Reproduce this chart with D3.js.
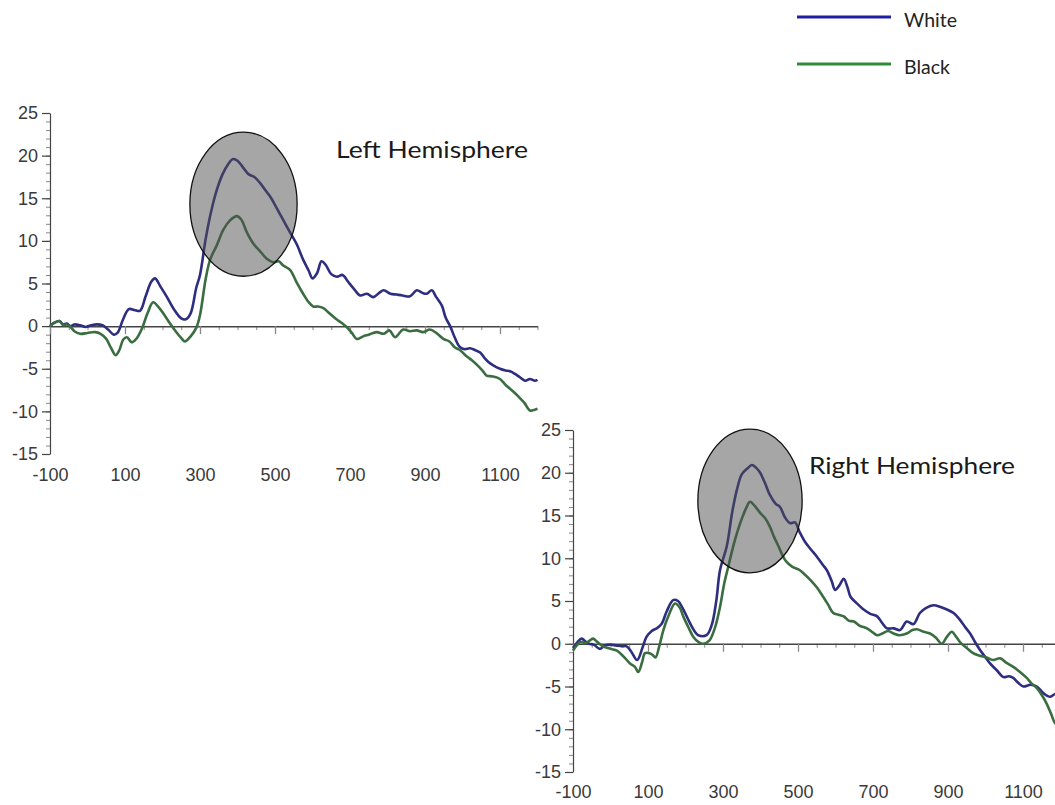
<!DOCTYPE html>
<html><head><meta charset="utf-8">
<script src="https://cdn.jsdelivr.net/npm/d3@7"></script>
<style>body{margin:0;background:#fff;overflow:hidden} svg{display:block}</style>
</head><body><svg id="c" width="1055" height="805"></svg>
<script>
// ---------------- data ----------------
const seriesNames = ["White", "Black"];
const xTicks = [-100, 100, 300, 500, 700, 900, 1100];
const yTicks = [25, 20, 15, 10, 5, 0, -5, -10, -15];
const panelTitles = ["Left Hemisphere", "Right Hemisphere"];

// [time (ms), amplitude]
const leftWhite = [[-100,0],[-88,0.4],[-75,0.6],[-65,0.2],[-55,0.3],[-45,0],[-35,0.2],[-20,0.1],[-5,-0.1],[10,0.1],[25,0.2],[40,0.1],[55,-0.4],[70,-1.0],[80,-0.8],[95,0.8],[110,2.0],[125,1.9],[140,1.8],[155,3.5],[170,5.2],[180,5.6],[195,4.6],[212,3.4],[230,2.0],[250,0.9],[262,0.8],[275,1.5],[290,4.5],[300,6.0],[315,10.2],[330,13.5],[345,16.0],[360,17.8],[375,19.0],[388,19.6],[400,19.4],[415,18.6],[430,17.8],[445,17.5],[460,16.8],[475,15.9],[490,15.0],[505,13.8],[520,12.6],[540,11.0],[558,9.6],[575,7.8],[590,6.5],[600,5.6],[612,6.2],[624,7.6],[635,7.2],[650,6.1],[665,5.8],[680,6.0],[695,5.2],[710,4.4],[727,3.6],[745,3.8],[762,3.4],[778,3.9],[790,4.2],[808,3.8],[824,3.7],[840,3.6],[860,3.5],[878,4.2],[893,3.9],[905,3.8],[918,4.2],[930,3.4],[945,2.4],[955,1.0],[967,0],[980,-1.4],[992,-2.4],[1005,-2.7],[1020,-2.6],[1033,-2.8],[1047,-3.1],[1058,-3.7],[1069,-4.2],[1082,-4.6],[1100,-5.0],[1115,-5.2],[1127,-5.3],[1140,-5.6],[1153,-6.0],[1167,-6.4],[1180,-6.2],[1193,-6.4],[1200,-6.3]];

const leftBlack = [[-100,0],[-88,0.4],[-75,0.6],[-65,0.1],[-55,0.2],[-45,-0.1],[-35,-0.6],[-20,-0.9],[0,-0.8],[20,-0.7],[35,-0.9],[50,-1.5],[62,-2.5],[75,-3.4],[85,-2.8],[95,-1.6],[105,-1.3],[118,-1.9],[130,-1.5],[145,-0.3],[160,1.5],[175,2.8],[190,2.2],[205,1.3],[220,0.3],[235,-0.6],[250,-1.4],[260,-1.8],[275,-1.2],[290,-0.2],[300,1.3],[315,5.5],[327,7.8],[345,9.5],[362,11.3],[380,12.4],[398,12.9],[410,12.5],[425,11.0],[442,9.7],[460,8.8],[478,7.9],[495,7.5],[510,7.6],[522,7.1],[540,6.6],[558,5.1],[575,3.8],[590,2.8],[602,2.3],[615,2.3],[629,2.1],[645,1.5],[664,0.8],[680,0.3],[691,-0.1],[705,-0.8],[718,-1.5],[735,-1.2],[750,-1.0],[771,-0.7],[790,-0.9],[805,-0.5],[820,-1.3],[842,-0.4],[860,-0.6],[878,-0.5],[895,-0.7],[913,-0.4],[930,-0.8],[949,-1.5],[965,-1.8],[980,-2.5],[993,-2.8],[1010,-3.5],[1025,-4.0],[1040,-4.6],[1055,-5.3],[1064,-5.8],[1080,-5.9],[1100,-6.2],[1115,-6.9],[1136,-7.7],[1150,-8.3],[1165,-9.0],[1180,-9.9],[1193,-9.8],[1200,-9.7]];

const rightWhite = [[-100,-0.5],[-88,0.2],[-77,0.6],[-65,0.2],[-57,0],[-45,-0.1],[-28,-0.6],[-15,-0.2],[-1,-0.1],[15,-0.2],[30,-0.3],[43,-0.3],[55,-0.9],[71,-1.9],[85,-0.5],[96,0.8],[110,1.5],[123,1.8],[136,2.3],[150,3.8],[167,5.1],[180,5.0],[192,4.2],[212,2.4],[225,1.4],[234,1.0],[256,1.0],[270,2.2],[282,5.0],[292,8.6],[310,11.4],[325,15.5],[337,18.0],[350,19.8],[365,20.5],[377,20.9],[388,20.6],[399,20.0],[412,18.8],[425,17.4],[440,16.4],[452,16.0],[465,14.8],[479,14.1],[492,14.2],[505,13.0],[519,11.9],[535,11.0],[550,10.2],[565,9.3],[577,8.6],[590,7.3],[599,6.3],[610,6.8],[622,7.6],[632,6.6],[640,5.5],[660,4.6],[675,4.0],[693,3.5],[711,3.2],[725,2.4],[737,1.8],[755,1.8],[772,1.6],[790,2.6],[808,2.3],[825,3.6],[842,4.2],[861,4.5],[880,4.3],[897,4.0],[915,3.6],[932,2.8],[945,2.0],[959,1.2],[972,0.2],[985,-0.7],[1000,-1.6],[1012,-2.3],[1030,-3.1],[1048,-3.9],[1062,-3.8],[1074,-4.0],[1088,-4.6],[1101,-5.0],[1120,-4.8],[1137,-5.0],[1155,-5.8],[1172,-6.2],[1185,-5.9],[1200,-6.0]];

const rightBlack = [[-100,-0.8],[-90,-0.2],[-80,0.2],[-65,0.1],[-55,0.4],[-46,0.6],[-35,0.2],[-20,-0.3],[0,-0.6],[17,-0.8],[35,-1.5],[52,-2.3],[65,-2.7],[74,-3.3],[84,-2.2],[92,-1.1],[104,-1.1],[112,-1.3],[120,-1.6],[130,-0.3],[141,1.6],[155,3.3],[172,4.7],[185,4.2],[194,3.2],[208,1.9],[221,0.8],[235,0.2],[247,0],[264,0.4],[278,1.8],[292,4.3],[303,7.0],[314,9.0],[325,11.0],[337,12.9],[350,14.6],[362,15.9],[372,16.6],[385,16.1],[399,15.3],[412,14.7],[425,13.7],[436,12.5],[447,11.5],[458,10.4],[469,9.6],[485,9.0],[505,8.6],[518,8.1],[532,7.5],[550,6.6],[567,5.5],[580,4.6],[594,3.6],[608,3.4],[622,3.2],[635,2.7],[649,2.6],[665,2.1],[684,1.8],[700,1.3],[711,1.0],[725,1.2],[740,1.5],[755,1.2],[770,1.0],[790,1.2],[805,1.6],[817,1.7],[835,1.4],[852,1.2],[868,0.7],[883,0],[897,0.8],[910,1.4],[922,0.8],[932,0.2],[950,-0.5],[967,-1.1],[985,-1.4],[1003,-1.6],[1020,-1.9],[1039,-1.7],[1055,-2.2],[1074,-2.7],[1092,-3.3],[1110,-4.0],[1122,-4.6],[1137,-5.2],[1150,-6.0],[1163,-7.0],[1175,-8.2],[1186,-9.3],[1200,-9.6]];

// highlight ellipses: [centre time, centre amplitude, half-width (ms), half-height (units)]
const leftHighlight = [416, 14.3, 143, 8.45];
const rightHighlight = [372, 16.7, 139, 8.4];

// ---------------- layout / style ----------------
const lineColors = {White: "#2e2e80", Black: "#3a6e41"};
const legendColors = {White: "#1f1fa3", Black: "#2e8b38"};

const panels = [
  {title: panelTitles[0], data: {White: leftWhite, Black: leftBlack}, hl: leftHighlight,
   xr: [50, 537.5], yr: [113, 454], labelY: 475, titleX: 336, titleY: 158, titleW: 192},
  {title: panelTitles[1], data: {White: rightWhite, Black: rightBlack}, hl: rightHighlight,
   xr: [573, 1060.5], yr: [430, 772], labelY: 791.5, titleX: 809, titleY: 474, titleW: 206}
];

const svg = d3.select("#c");
const tickFont = "'Liberation Sans', Arial, Helvetica, sans-serif";
const textFont = "Lato, 'Open Sans', sans-serif";
const fmt = d => String(d);

panels.forEach(p => {
  const x = d3.scaleLinear().domain([-100, 1200]).range(p.xr);
  const y = d3.scaleLinear().domain([25, -15]).range(p.yr);
  const g = svg.append("g");

  // y axis minor ticks
  g.append("g").attr("transform", `translate(${p.xr[0]},0)`)
    .call(d3.axisLeft(y).tickValues(d3.range(-15, 26, 1)).tickSize(4).tickSizeOuter(0).tickFormat(""))
    .call(a => { a.select(".domain").remove(); a.selectAll("line").attr("stroke", "#888"); });
  // y axis major
  g.append("g").attr("transform", `translate(${p.xr[0]},0)`)
    .call(d3.axisLeft(y).tickValues(yTicks).tickSize(8).tickSizeOuter(0).tickPadding(4).tickFormat(fmt))
    .call(a => {
      a.select(".domain").attr("stroke", "#444").attr("stroke-width", 1.2);
      a.selectAll("line").attr("stroke", "#444").attr("stroke-width", 1.2);
      a.selectAll("text").attr("font-family", tickFont).attr("font-size", 18).attr("fill", "#3a3a3a");
    });

  // x axis on zero line: minor ticks
  g.append("g").attr("transform", `translate(0,${y(0)})`)
    .call(d3.axisBottom(x).tickValues(d3.range(-100, 1201, 50)).tickSize(4).tickSizeOuter(0).tickFormat(""))
    .call(a => { a.select(".domain").remove(); a.selectAll("line").attr("stroke", "#888"); });
  g.append("g").attr("transform", `translate(0,${y(0)})`)
    .call(d3.axisBottom(x).tickValues(xTicks).tickSize(8).tickSizeOuter(0).tickFormat(""))
    .call(a => {
      a.select(".domain").attr("stroke", "#444").attr("stroke-width", 1.5);
      a.selectAll("line").attr("stroke", "#888").attr("stroke-width", 1.3);
    });
  // x tick labels at bottom
  g.append("g").attr("transform", `translate(0,${p.labelY})`)
    .call(d3.axisBottom(x).tickValues(xTicks).tickSize(0).tickPadding(0).tickFormat(fmt))
    .call(a => {
      a.select(".domain").remove();
      a.selectAll("text").attr("dy", "0.35em").attr("font-family", tickFont).attr("font-size", 18).attr("fill", "#3a3a3a");
    });

  // lines
  const line = d3.line().x(d => x(d[0])).y(d => y(d[1])).curve(d3.curveCatmullRom.alpha(0.5));
  seriesNames.forEach(s => {
    g.append("path").datum(p.data[s]).attr("d", line)
      .attr("fill", "none").attr("stroke", lineColors[s]).attr("stroke-width", 2.6)
      .attr("stroke-linejoin", "round");
  });

  // highlight ellipse
  const [hc, hv, hw, hh] = p.hl;
  g.append("ellipse")
    .attr("cx", x(hc)).attr("cy", y(hv))
    .attr("rx", x(hc + hw) - x(hc)).attr("ry", y(hv - hh) - y(hv))
    .attr("fill", "#4d4d4d").attr("fill-opacity", 0.5)
    .attr("stroke", "#111").attr("stroke-width", 1.3);

  // title
  g.append("text").attr("x", p.titleX).attr("y", p.titleY)
    .attr("font-family", textFont).attr("font-size", 23).attr("fill", "#1a1a1a")
    .attr("textLength", p.titleW).attr("lengthAdjust", "spacingAndGlyphs")
    .text(p.title);
});

// legend
const legendLayout = [{y: 17, ty: 26.5, w: 53}, {y: 64, ty: 74, w: 46}];
seriesNames.forEach((s, i) => {
  const L = legendLayout[i];
  svg.append("line").attr("x1", 797).attr("x2", 891).attr("y1", L.y).attr("y2", L.y)
    .attr("stroke", legendColors[s]).attr("stroke-width", 3);
  svg.append("text").attr("x", 904).attr("y", L.ty)
    .attr("font-family", textFont).attr("font-size", 18.5).attr("fill", "#222")
    .attr("textLength", L.w).attr("lengthAdjust", "spacingAndGlyphs")
    .text(s);
});
</script>
</body></html>
